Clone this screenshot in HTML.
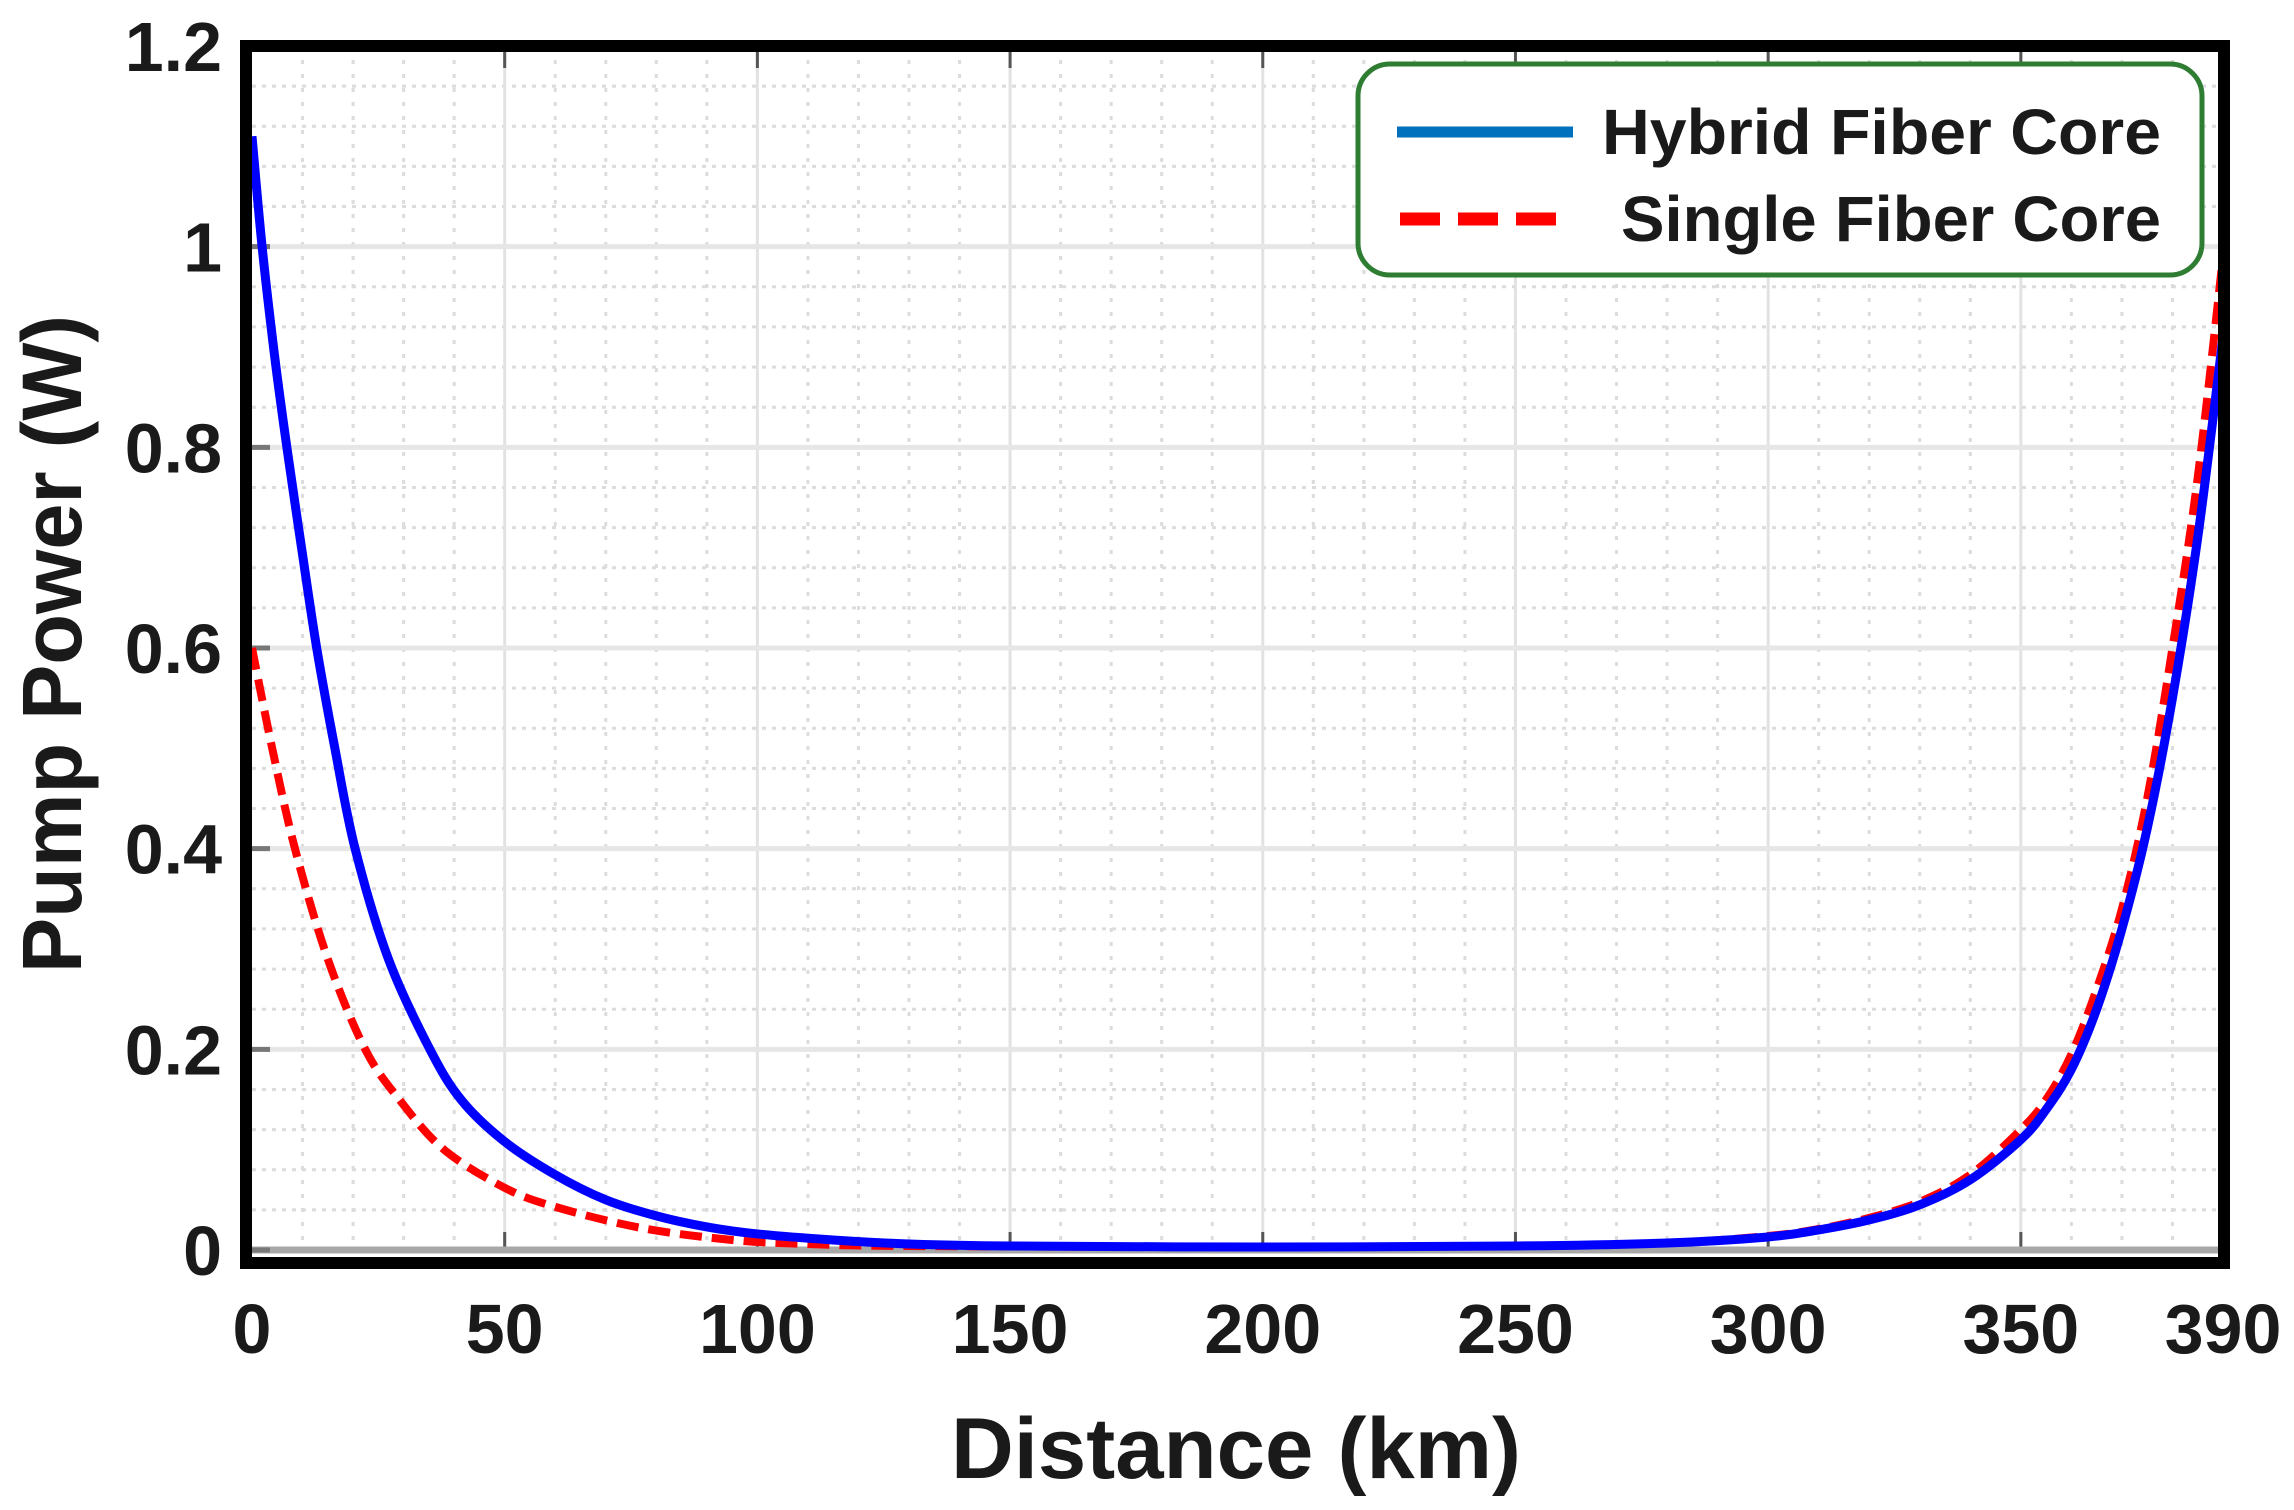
<!DOCTYPE html>
<html><head><meta charset="utf-8"><style>
html,body{margin:0;padding:0;background:#fff;}
svg{display:block;}
text{font-family:"Liberation Sans",Arial,sans-serif;font-weight:bold;fill:#1a1a1a;}
</style></head><body>
<svg id="chart" width="2294" height="1510" viewBox="0 0 2294 1510" xmlns="http://www.w3.org/2000/svg">
<g id="grid"></g>
<g id="series"></g>
<rect x="246" y="46" width="1978" height="1217" fill="none" stroke="#000" stroke-width="12"/>
<g id="ticks"></g>
<text x="1236" y="1478" font-size="86" text-anchor="middle" textLength="570" lengthAdjust="spacingAndGlyphs">Distance (km)</text>
<text transform="translate(81,644) rotate(-90)" font-size="84" text-anchor="middle" textLength="658" lengthAdjust="spacingAndGlyphs">Pump Power (W)</text>
<g>
<rect x="1358" y="64" width="844" height="211" rx="32" fill="#fff" stroke="#2e7d32" stroke-width="5"/>
<line x1="1397" y1="132" x2="1573" y2="132" stroke="#0072BD" stroke-width="11"/>
<text x="1602" y="154" font-size="64" fill="#000" textLength="559" lengthAdjust="spacingAndGlyphs">Hybrid Fiber Core</text>
<line x1="1400" y1="219" x2="1573" y2="219" stroke="#ff0000" stroke-width="13" stroke-dasharray="40,18"/>
<text x="1621" y="241" font-size="64" fill="#000" textLength="540" lengthAdjust="spacingAndGlyphs">Single Fiber Core</text>
</g>
</svg>
<script>
const xTicks = [0,50,100,150,200,250,300,350,390];
const yTicks = [0,0.2,0.4,0.6,0.8,1,1.2];
const yTickLabels = ["0","0.2","0.4","0.6","0.8","1","1.2"];
const hybridX = [0,2,4.5,6.9,9.8,12.8,16.4,20.4,27,35.2,41.5,50,60,70,80,90,100,115,130,150,200,250,280,300,310,320,330,340,350,355,360,365,370,375,380,385,390];
const hybridY = [1.11,1.0,0.89,0.8,0.7,0.6,0.5,0.4,0.29,0.2,0.149,0.108,0.075,0.05,0.034,0.023,0.016,0.01,0.006,0.004,0.003,0.004,0.007,0.013,0.02,0.03,0.045,0.07,0.11,0.14,0.18,0.24,0.32,0.42,0.55,0.71,0.91];
const singleX = [0,4,8.5,15,22.4,29.3,38,50,60,77,95,110,130,200,250,280,300,310,320,330,340,350,355,360,365,370,375,380,385,390];
const singleY = [0.6,0.5,0.4,0.29,0.2,0.149,0.1,0.062,0.043,0.022,0.01,0.006,0.004,0.003,0.004,0.007,0.014,0.021,0.032,0.048,0.075,0.12,0.15,0.195,0.26,0.34,0.45,0.6,0.77,0.99];

const X0=252, X1=2223, Y0=1250, Y1=46;
const sx = v => X0 + (v-0)/(390-0)*(X1-X0);
const sy = v => Y0 - (v-0)/(1.2-0)*(Y0-Y1);
const NS="http://www.w3.org/2000/svg";
const grid=document.getElementById('grid'), ticks=document.getElementById('ticks'), series=document.getElementById('series');
function mk(tag,attrs,parent){const e=document.createElementNS(NS,tag);for(const k in attrs)e.setAttribute(k,attrs[k]);parent.appendChild(e);return e;}

for(let v=10; v<390; v+=10){
  if(v%50===0) continue;
  const l=mk('line',{x1:sx(v),x2:sx(v),y1:Y1,y2:Y0,stroke:'#dcdcdc','stroke-width':3,'stroke-dasharray':'4,10'},grid);
  
  
}
for(let i=1;i<30;i++){
  const v=i*0.04; if(i%5===0) continue;
  const l=mk('line',{x1:X0,x2:X1,y1:sy(v),y2:sy(v),stroke:'#dcdcdc','stroke-width':3,'stroke-dasharray':'4,6'},grid);
  
  
}
xTicks.forEach(v=>{
  if(v===0||v===390) return;
  const l=mk('line',{x1:sx(v),x2:sx(v),y1:Y1,y2:Y0,stroke:'#e2e2e2','stroke-width':3},grid);
  
  
  const t=mk('line',{x1:sx(v),x2:sx(v),y1:Y0,y2:Y0-18,stroke:'#555','stroke-width':3},grid);
  
  
  const t2=mk('line',{x1:sx(v),x2:sx(v),y1:Y1+6,y2:Y1+22,stroke:'#555','stroke-width':3},grid);
  
  
});
yTicks.forEach(v=>{
  if(v===1.2) return;
  const l=mk('line',{x1:X0,x2:X1,y1:sy(v),y2:sy(v),stroke:v===0?'#a8a8a8':'#e6e6e6','stroke-width':v===0?7:5},grid);
  
  
  const t=mk('line',{x1:X0,x2:X0+18,y1:sy(v),y2:sy(v),stroke:'#777','stroke-width':5},grid);
  
  
});
xTicks.forEach(v=>{
  const t=mk('text',{x:sx(v),y:1353,'font-size':70,'text-anchor':'middle'},ticks);
  t.textContent=String(v);
  
  
});
yTicks.forEach((v,i)=>{
  const t=mk('text',{x:222,y:sy(v)+25,'font-size':70,'text-anchor':'end'},ticks);
  t.textContent=yTickLabels[i];
  
  
});
function pathFor(xs,ys){
  const p=xs.map((x,i)=>[sx(x),sy(ys[i])]);
  let d='M'+p[0][0]+','+p[0][1];
  for(let i=0;i<p.length-1;i++){
    const a=p[Math.max(0,i-1)],b=p[i],c=p[i+1],e=p[Math.min(p.length-1,i+2)];
    const c1=[b[0]+(c[0]-a[0])/6,b[1]+(c[1]-a[1])/6];
    const c2=[c[0]-(e[0]-b[0])/6,c[1]-(e[1]-b[1])/6];
    d+=' C'+c1[0]+','+c1[1]+' '+c2[0]+','+c2[1]+' '+c[0]+','+c[1];
  }
  return d;
}
const red=mk('path',{d:pathFor(singleX,singleY),fill:'none',stroke:'#ff0000','stroke-width':8,'stroke-dasharray':'22,10'},series);


const blue=mk('path',{d:pathFor(hybridX,hybridY),fill:'none',stroke:'#0000ff','stroke-width':9},series);


</script>
</body></html>
